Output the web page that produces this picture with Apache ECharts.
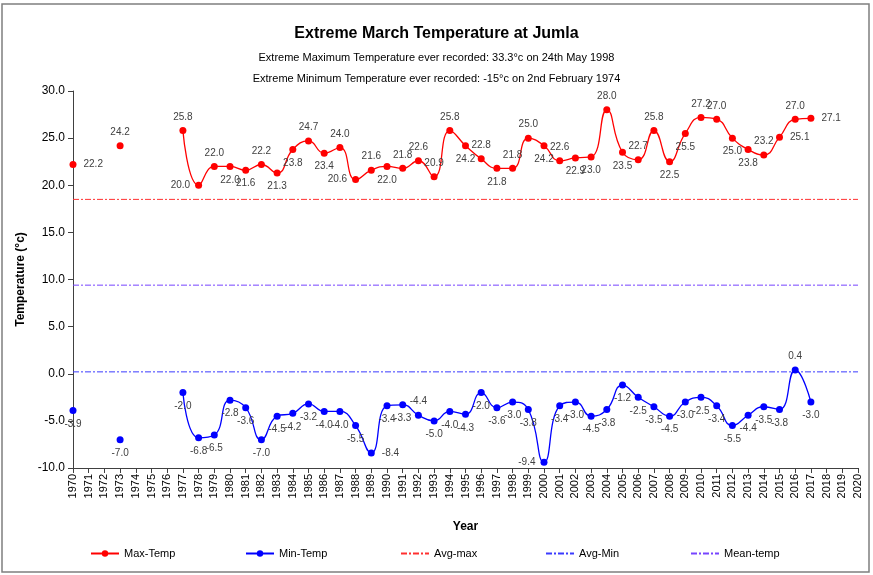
<!DOCTYPE html>
<html>
<head>
<meta charset="utf-8">
<title>Extreme March Temperature at Jumla</title>
<script src="https://cdn.jsdelivr.net/npm/echarts@6/dist/echarts.min.js"></script>
<style>
  html, body { margin: 0; padding: 0; background: #fff; }
  #container { width: 873px; height: 575px; }
</style>
</head>
<body>
<div id="container"></div>
<script>
// categories (years)
var years = ['1970', '1971', '1972', '1973', '1974', '1975', '1976', '1977', '1978', '1979',
  '1980', '1981', '1982', '1983', '1984', '1985', '1986', '1987', '1988', '1989',
  '1990', '1991', '1992', '1993', '1994', '1995', '1996', '1997', '1998', '1999',
  '2000', '2001', '2002', '2003', '2004', '2005', '2006', '2007', '2008', '2009',
  '2010', '2011', '2012', '2013', '2014', '2015', '2016', '2017', '2018', '2019', '2020']

// extreme max of March, 1970..2020 (null = no record)
var maxTemp = [22.2, null, null, 24.2, null, null, null, 25.8, 20.0, 22.0,
  22.0, 21.6, 22.2, 21.3, 23.8, 24.7, 23.4, 24.0, 20.6, 21.6,
  22.0, 21.8, 22.6, 20.9, 25.8, 24.2, 22.8, 21.8, 21.8, 25.0,
  24.2, 22.6, 22.9, 23.0, 28.0, 23.5, 22.7, 25.8, 22.5, 25.5,
  27.2, 27.0, 25.0, 23.8, 23.2, 25.1, 27.0, 27.1, null, null, null]

// extreme min of March, 1970..2020
var minTemp = [-3.9, null, null, -7.0, null, null, null, -2.0, -6.8, -6.5,
  -2.8, -3.6, -7.0, -4.5, -4.2, -3.2, -4.0, -4.0, -5.5, -8.4,
  -3.4, -3.3, -4.4, -5.0, -4.0, -4.3, -2.0, -3.6, -3.0, -3.8,
  -9.4, -3.4, -3.0, -4.5, -3.8, -1.2, -2.5, -3.5, -4.5, -3.0,
  -2.5, -3.4, -5.5, -4.4, -3.5, -3.8, 0.4, -3.0, null, null, null]

// reference lines
var avgMax = 18.5
var meanTemp = 9.4
var avgMin = 0.2

// where each data label sits (t/b/l/r, tl = top shifted left ...)
var maxLabelPos = ['r', '', '', 'tl', '', '', '', 'tl', 'l', 't',
  'bl', 'b', 'tl', 'b', 'b', 't', 'b', 't', 'l', 't',
  'b', 't', 't', 't', 't', 'bl', 'tr', 'bl', 'tl', 't',
  'bl', 'tr', 'b', 'b', 't', 'b', 'tl', 't', 'b', 'b',
  't', 'tr', 'bl', 'b', 't', 'r', 't', 'r', '', '', '']
var minLabelPos = ['b', '', '', 'b', '', '', '', 'b', 'b', 'br',
  'br', 'b', 'br', 'b', 'b', 'b', 'b', 'b', 'b', 'r',
  'br', 'b', 'tr', 'b', 'b', 'br', 'b', 'b', 'b', 'b',
  'l', 'b', 'b', 'b', 'b', 'b', 'b', 'b', 'b', 'b',
  'b', 'b', 'b', 'b', 'b', 'b', 't', 'b', '', '', '']

var font = 'Liberation Sans, Arial, sans-serif'
var dashDot = [6, 2, 2, 2]

function labelFor(code) {
  var map = {
    t: { position: 'top' },
    b: { position: 'bottom' },
    l: { position: 'left' },
    r: { position: 'right', distance: 7 },
    tl: { position: 'top', offset: [-10, 0] },
    tr: { position: 'top', offset: [10, 0] },
    bl: { position: 'bottom', offset: [-10, 0] },
    br: { position: 'bottom', offset: [10, 0] }
  }
  return map[code] || { position: 'top' }
}

function buildData(values, positions) {
  var out = []
  for (var i = 0; i < values.length; i++) {
    if (values[i] === null) {
      out.push(null)
    } else {
      out.push({ value: values[i], label: labelFor(positions[i]) })
    }
  }
  return out
}

function flatLine(v) {
  // from first to last category, drawn through the axes
  return [[years[0], v], [years[years.length - 1], v]]
}

var chart = echarts.init(document.getElementById('container'))

var pointLabel = {
  show: true,
  fontFamily: font,
  fontSize: 10,
  color: '#404040',
  formatter: function(p) { return Number(p.value).toFixed(1) }
}

var legendText = { fontFamily: font, fontSize: 11, color: '#000' }

chart.setOption({
  backgroundColor: '#ffffff',
  animation: false,
  graphic: [{
    type: 'rect',
    shape: { x: 2, y: 4, width: 867, height: 568 },
    style: { fill: 'none', stroke: '#7f7f7f', lineWidth: 1.5 },
    silent: true
  }],
  title: [
    {
      text: 'Extreme March Temperature at Jumla',
      left: 'center',
      top: 21,
      textStyle: { fontFamily: font, fontSize: 16, fontWeight: 'bold', color: '#000' }
    },
    {
      text: 'Extreme Maximum Temperature ever recorded: 33.3°c on 24th May 1998',
      left: 'center',
      top: 47,
      textStyle: { fontFamily: font, fontSize: 11, fontWeight: 'normal', color: '#000' }
    },
    {
      text: 'Extreme Minimum Temperature ever recorded: -15°c on 2nd February 1974',
      left: 'center',
      top: 68,
      textStyle: { fontFamily: font, fontSize: 11, fontWeight: 'normal', color: '#000' }
    }
  ],
  legend: [
    { data: ['Max-Temp'], left: 85, itemHeight: 8, textStyle: legendText },
    { data: ['Min-Temp'], left: 240, itemHeight: 8, textStyle: legendText },
    { data: ['Avg-max'], left: 395, itemStyle: { opacity: 0 }, textStyle: legendText },
    { data: ['Avg-Min'], left: 540, itemStyle: { opacity: 0 }, textStyle: legendText },
    { data: ['Mean-temp'], left: 685, itemStyle: { opacity: 0 }, textStyle: legendText }
  ].map(function(l) {
    return Object.assign({ top: 543, itemWidth: 28 }, l)
  }),
  grid: { left: 73, right: 15, top: 91, bottom: 107 },
  xAxis: {
    type: 'category',
    data: years,
    boundaryGap: false,
    name: 'Year',
    nameLocation: 'middle',
    nameGap: 53,
    nameTextStyle: { fontFamily: font, fontSize: 12, fontWeight: 'bold', color: '#000' },
    axisLine: { onZero: false, lineStyle: { color: '#404040', width: 1 } },
    axisTick: { show: true, interval: 0, length: 5, lineStyle: { color: '#404040' } },
    axisLabel: { interval: 0, rotate: 90, fontFamily: font, fontSize: 11, color: '#000', margin: 6 },
    splitLine: { show: false }
  },
  yAxis: {
    type: 'value',
    min: -10,
    max: 30,
    interval: 5,
    name: 'Temperature (°c)',
    nameLocation: 'middle',
    nameGap: 38,
    nameTextStyle: { fontFamily: font, fontSize: 12, fontWeight: 'bold', color: '#000' },
    axisLine: { show: true, lineStyle: { color: '#404040', width: 1 } },
    axisTick: { show: true, length: 5, lineStyle: { color: '#404040' } },
    axisLabel: {
      fontFamily: font, fontSize: 12, color: '#000', margin: 8,
      formatter: function(v) { return v.toFixed(1) }
    },
    splitLine: { show: false }
  },
  series: [
    {
      name: 'Max-Temp',
      type: 'line',
      data: buildData(maxTemp, maxLabelPos),
      smooth: 0.5,
      connectNulls: false,
      symbol: 'circle',
      symbolSize: 7,
      showAllSymbol: true,
      itemStyle: { color: '#ff0000' },
      lineStyle: { color: '#ff0000', width: 1.3 },
      label: pointLabel,
      labelLayout: { hideOverlap: false },
      z: 5
    },
    {
      name: 'Min-Temp',
      type: 'line',
      data: buildData(minTemp, minLabelPos),
      smooth: 0.5,
      connectNulls: false,
      symbol: 'circle',
      symbolSize: 7,
      showAllSymbol: true,
      itemStyle: { color: '#0000ff' },
      lineStyle: { color: '#0000ff', width: 1.3 },
      label: pointLabel,
      labelLayout: { hideOverlap: false },
      z: 5
    },
    {
      name: 'Avg-max',
      type: 'line',
      data: flatLine(avgMax),
      symbol: 'none',
      itemStyle: { color: '#ff3030' },
      lineStyle: { color: '#ff3030', width: 1, type: dashDot }
    },
    {
      name: 'Avg-Min',
      type: 'line',
      data: flatLine(avgMin),
      symbol: 'none',
      itemStyle: { color: '#3b3bff' },
      lineStyle: { color: '#3b3bff', width: 1, type: dashDot }
    },
    {
      name: 'Mean-temp',
      type: 'line',
      data: flatLine(meanTemp),
      symbol: 'none',
      itemStyle: { color: '#7744ff' },
      lineStyle: { color: '#7744ff', width: 1, type: dashDot }
    }
  ]
})
</script>
</body>
</html>
